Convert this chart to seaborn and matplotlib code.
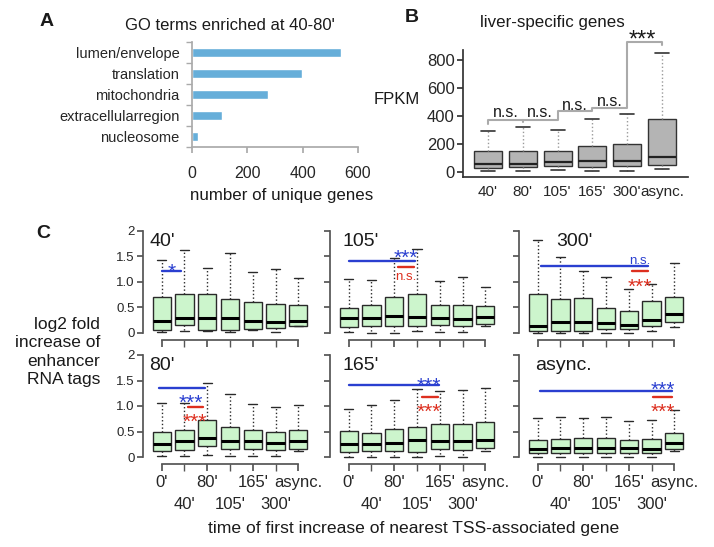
import numpy as np
import pandas as pd
import matplotlib
matplotlib.use("Agg")
import matplotlib.pyplot as plt
import matplotlib.transforms as mtransforms
import seaborn as sns

# ---- data ----
go_terms = ["lumen/envelope", "translation", "mitochondria", "extracellularregion", "nucleosome"]
go_counts = [538, 396, 276, 109, 22]

b_groups = ["40'", "80'", "105'", "165'", "300'", "async."]
# rows: whisker low, Q1, median, Q3, whisker high
b_stats = [[8, 8, 12, 8, 8, 24],
           [28, 33, 40, 33, 40, 52],
           [59, 57, 71, 76, 81, 104],
           [147, 147, 152, 188, 202, 380],
           [290, 320, 301, 377, 415, 850]]
b_bracket_x = [0, 0, 2, 2, 3, 3, 4, 4, 5, 5]
b_bracket_y = [345, 371, 371, 436, 436, 455, 455, 930, 930, 905]
b_sig_x = [0.5, 1.5, 2.5, 3.5, 4.45]
b_sig_y = [421, 421, 471, 502, 993]
b_sig_txt = ["n.s.", "n.s.", "n.s.", "n.s.", "***"]

c_groups = ["0'", "40'", "80'", "105'", "165'", "300'", "async."]
c_titles = ["40'", "105'", "300'", "80'", "165'", "async."]
c_40 = [[0.01, 0.03, 0.03, 0.02, 0.05, 0.01, 0.13],
        [0.06, 0.15, 0.05, 0.05, 0.08, 0.10, 0.14],
        [0.23, 0.29, 0.29, 0.29, 0.23, 0.21, 0.24],
        [0.70, 0.76, 0.76, 0.66, 0.60, 0.56, 0.55],
        [1.44, 1.62, 1.28, 1.57, 1.19, 1.26, 1.07]]
c_105 = [[0.01, 0.00, 0.00, 0.03, 0.01, 0.01, 0.13],
         [0.11, 0.14, 0.13, 0.14, 0.15, 0.14, 0.17],
         [0.29, 0.29, 0.33, 0.32, 0.29, 0.27, 0.31],
         [0.49, 0.54, 0.71, 0.76, 0.54, 0.55, 0.53],
         [1.05, 1.04, 1.47, 1.65, 1.01, 1.10, 0.91]]
c_300 = [[0.00, 0.00, 0.00, 0.00, 0.00, 0.03, 0.12],
         [0.03, 0.04, 0.04, 0.07, 0.08, 0.14, 0.21],
         [0.14, 0.22, 0.22, 0.19, 0.15, 0.26, 0.37],
         [0.77, 0.67, 0.69, 0.49, 0.44, 0.62, 0.70],
         [1.82, 1.49, 1.21, 1.09, 0.87, 0.97, 1.37]]
c_80 = [[0.01, 0.01, 0.04, 0.01, 0.01, 0.01, 0.12],
        [0.11, 0.14, 0.21, 0.16, 0.16, 0.14, 0.16],
        [0.26, 0.31, 0.37, 0.32, 0.31, 0.27, 0.32],
        [0.50, 0.52, 0.72, 0.59, 0.52, 0.49, 0.53],
        [1.06, 1.06, 1.46, 1.23, 1.04, 0.99, 1.01]]
c_165 = [[0.00, 0.00, 0.00, 0.00, 0.02, 0.00, 0.12],
         [0.10, 0.11, 0.11, 0.10, 0.16, 0.14, 0.18],
         [0.26, 0.26, 0.28, 0.33, 0.32, 0.32, 0.33],
         [0.51, 0.48, 0.54, 0.59, 0.64, 0.64, 0.68],
         [0.94, 1.02, 1.12, 1.33, 1.30, 1.32, 1.35]]
c_async = [[0.00, 0.00, 0.00, 0.00, 0.00, 0.00, 0.12],
           [0.07, 0.08, 0.08, 0.08, 0.08, 0.08, 0.16],
           [0.16, 0.18, 0.18, 0.18, 0.18, 0.16, 0.28],
           [0.34, 0.36, 0.38, 0.38, 0.34, 0.35, 0.48],
           [0.77, 0.78, 0.76, 0.79, 0.71, 0.72, 0.93]]
c_stats = [c_40, c_105, c_300, c_80, c_165, c_async]
c_title_x = [-0.55, -0.25, 0.8, -0.55, -0.25, -0.1]
# significance lines per panel: (x0, x1, y, colour, label, label x, label centre y)
c_sig = [
    [(0.0, 0.85, 1.22, "blue", "*", 0.45, 1.31)],
    [(0.0, 2.9, 1.41, "blue", "***", 2.5, 1.59), (2.15, 2.85, 1.29, "red", "n.s.", 2.5, 1.10)],
    [(0.15, 4.85, 1.32, "blue", "n.s.", 4.5, 1.42), (4.15, 4.85, 1.21, "red", "***", 4.5, 1.03)],
    [(-0.1, 1.9, 1.35, "blue", "***", 1.26, 1.19), (1.15, 1.82, 0.98, "red", "***", 1.45, 0.81)],
    [(0.0, 3.95, 1.41, "blue", "***", 3.5, 1.51), (3.2, 3.9, 1.18, "red", "***", 3.5, 1.0)],
    [(0.1, 5.9, 1.30, "blue", "***", 5.5, 1.43), (5.05, 5.9, 1.18, "red", "***", 5.5, 1.0)],
]

sns.set_theme(style="ticks")
plt.rcParams["font.family"] = ["Liberation Sans", "DejaVu Sans"]
plt.rcParams["text.color"] = "#1a1a1a"

W, H = 714, 547
fig = plt.figure(figsize=(W / 100, H / 100), dpi=100)


def px_axes(l, t, r, b):
    return fig.add_axes([l / W, 1 - b / H, (r - l) / W, (b - t) / H])


def five_num_frame(stats, labels):
    rows = []
    for j, lab in enumerate(labels):
        for k in range(5):
            rows.append((lab, stats[k][j]))
    return pd.DataFrame(rows, columns=["group", "value"])


def sig_text(ax, x, y, txt, colour, fs):
    # put the glyphs' visual centre at y (asterisks sit high, lowercase low)
    shift = 0.58 if "*" in txt else 0.27
    tr = mtransforms.offset_copy(ax.transData, fig=fig, y=-shift * fs, units="points")
    ax.text(x, y, txt, ha="center", va="baseline", color=colour, fontsize=fs,
            transform=tr, clip_on=False)


# ---- A ----
axA = px_axes(192, 42, 358, 147)
sns.barplot(x=go_counts, y=go_terms, orient="h", color="#66aed9", width=0.4,
            saturation=1, ax=axA)
axA.set_xlim(0, 600)
axA.set_ylim(4.5, -0.5)
axA.set_xticks([0, 200, 400, 600])
axA.set_yticks(np.arange(-0.5, 5, 1), minor=True)
axA.tick_params(axis="x", length=4, color="#aaaaaa", labelsize=11.5, pad=10)
axA.tick_params(axis="y", which="major", length=0, labelsize=10.5, pad=9)
axA.tick_params(axis="y", which="minor", length=4, color="#aaaaaa")
for s in ["top", "right"]:
    axA.spines[s].set_visible(False)
for s in ["left", "bottom"]:
    axA.spines[s].set_color("#aaaaaa")
axA.set_xlabel("")
fig.text(282 / W, 1 - 195 / H, "number of unique genes", ha="center", va="center", fontsize=12.2)
fig.text(230 / W, 1 - 25 / H, "GO terms enriched at 40-80'", ha="center", va="center", fontsize=12)
fig.text(47 / W, 1 - 22 / H, "A", ha="center", va="center", fontsize=14, fontweight="bold")

# ---- B ----
axB = px_axes(463, 50, 688, 177)
dfB = five_num_frame(b_stats, b_groups)
sns.boxplot(data=dfB, x="group", y="value", whis=(0, 100), width=0.8, saturation=1,
            fliersize=0, ax=axB,
            boxprops=dict(facecolor="#b4b4b4", edgecolor="#333333", linewidth=1),
            medianprops=dict(color="#222222", linewidth=1.6),
            whiskerprops=dict(color="#9a9a9a", linestyle=":", linewidth=1),
            capprops=dict(color="#333333", linewidth=1.2))
axB.set_xlim(-0.72, 5.75)
axB.set_ylim(-36, 871)
axB.set_yticks([0, 200, 400, 600, 800])
axB.set_xlabel("")
axB.set_ylabel("")
axB.tick_params(axis="x", length=0, labelsize=11, pad=6)
axB.tick_params(axis="y", length=4, labelsize=12, pad=2, color="#333333")
for s in ["top", "right"]:
    axB.spines[s].set_visible(False)
for s in ["left", "bottom"]:
    axB.spines[s].set_color("#333333")
axB.plot(b_bracket_x, b_bracket_y, color="#aaaaaa", lw=1.5, clip_on=False)
axB.plot([1, 1], [355, 371], color="#aaaaaa", lw=1.5, clip_on=False)
for x, y, t in zip(b_sig_x, b_sig_y, b_sig_txt):
    sig_text(axB, x, y, t, "#1a1a1a", 17 if t == "***" else 11.5)
fig.text(397 / W, 1 - 100 / H, "FPKM", ha="center", va="center", fontsize=12)
fig.text(552 / W, 1 - 22 / H, "liver-specific genes", ha="center", va="center", fontsize=12.2)
fig.text(412 / W, 1 - 18 / H, "B", ha="center", va="center", fontsize=14, fontweight="bold")

# ---- C ----
col_left = [143, 330, 519]
row_zero = [333, 457]
unit = 51
blue, red = "#2a3fd0", "#dd2f1f"
for i in range(6):
    r, c = divmod(i, 3)
    left = col_left[c]
    top = row_zero[r] - 2.1 * unit
    bottom = row_zero[r] + 0.14 * unit
    ax = px_axes(left, top, left + 169, bottom)
    df = five_num_frame(c_stats[i], c_groups)
    sns.boxplot(data=df, x="group", y="value", whis=(0, 100), width=0.8, saturation=1,
                fliersize=0, ax=ax,
                boxprops=dict(facecolor="#ccf5cc", edgecolor="#2a2a2a", linewidth=1),
                medianprops=dict(color="black", linewidth=2.2),
                whiskerprops=dict(color="#2a2a2a", linestyle=":", linewidth=1),
                capprops=dict(color="#2a2a2a", linewidth=1))
    ax.set_xlim(-0.82, 6.6)
    ax.set_ylim(-0.14, 2.1)
    ax.set_yticks([0, 0.5, 1.0, 1.5, 2])
    ax.set_xlabel("")
    ax.set_ylabel("")
    for s in ["top", "right"]:
        ax.spines[s].set_visible(False)
    for s in ["left", "bottom"]:
        ax.spines[s].set_color("#555555")
    ax.spines["left"].set_bounds(0, 2)
    ax.spines["bottom"].set_bounds(0, 6)
    ax.tick_params(axis="y", length=4, color="#555555", labelsize=9.5, pad=2)
    # even groups labelled on the first line, odd groups on a second line
    ax.set_xticks([0, 2, 4, 6])
    ax.set_xticks([1, 3, 5], minor=True)
    ax.tick_params(axis="x", which="major", length=5, color="#555555", labelsize=12, pad=3)
    ax.tick_params(axis="x", which="minor", length=5, color="#555555", width=1,
                   labelsize=12, pad=19)
    if c == 0:
        ax.set_yticklabels(["0", "0.5", "1.0", "1.5", "2"])
    else:
        ax.set_yticklabels([])
    if r == 1:
        ax.set_xticklabels(c_groups[0::2])
        ax.set_xticklabels(c_groups[1::2], minor=True)
    else:
        ax.set_xticklabels([])
        ax.set_xticklabels([], minor=True)
    ax.text(c_title_x[i], 1.97, c_titles[i], ha="left", va="top", fontsize=14)
    for x0, x1, y, col, lab, lx, ly in c_sig[i]:
        colour = blue if col == "blue" else red
        ax.plot([x0, x1], [y, y], color=colour, lw=1.7, clip_on=False)
        sig_text(ax, lx, ly, lab, colour, 15 if "*" in lab else 9.5)

fig.text(100 / W, 1 - 352 / H, "log2 fold\nincrease of\nenhancer\nRNA tags", ha="right",
         va="center", fontsize=12.5, linespacing=1.3)
fig.text(414 / W, 1 - 528 / H, "time of first increase of nearest TSS-associated gene",
         ha="center", va="center", fontsize=12.6)
fig.text(43 / W, 1 - 233 / H, "C", ha="center", va="center", fontsize=14, fontweight="bold")

fig.savefig("out.png", dpi=100)
